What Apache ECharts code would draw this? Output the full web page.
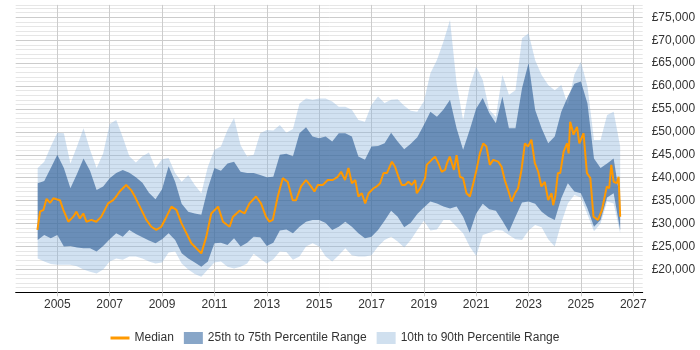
<!DOCTYPE html>
<html>
<head>
<meta charset="utf-8">
<script src="https://cdn.jsdelivr.net/npm/echarts@6/dist/echarts.min.js"></script>
<style>
  html, body { margin: 0; padding: 0; background: #fff; }
  #chart { width: 700px; height: 350px; }
</style>
</head>
<body>
<div id="chart"></div>
<script>
// values in £ thousands, quarterly
const years = [
  2004.25, 2004.5, 2004.75, 2005, 2005.25, 2005.5, 2005.75, 2006, 2006.25, 2006.5, 2006.75, 2007, 2007.25, 2007.5, 2007.75,
  2008, 2008.25, 2008.5, 2008.75, 2009, 2009.25, 2009.5, 2009.75, 2010, 2010.25, 2010.5, 2010.75, 2011, 2011.25, 2011.5, 2011.75,
  2012, 2012.25, 2012.5, 2012.75, 2013, 2013.25, 2013.5, 2013.75, 2014, 2014.25, 2014.5, 2014.75, 2015, 2015.25, 2015.5, 2015.75,
  2016, 2016.25, 2016.5, 2016.75, 2017, 2017.25, 2017.5, 2017.75, 2018, 2018.25, 2018.5, 2018.75, 2019, 2019.25, 2019.5, 2019.75,
  2020, 2020.25, 2020.5, 2020.75, 2021, 2021.25, 2021.5, 2021.75, 2022, 2022.25, 2022.5, 2022.75, 2023, 2023.25, 2023.5, 2023.75,
  2024, 2024.25, 2024.5, 2024.75, 2025, 2025.25, 2025.5, 2025.75, 2026, 2026.25, 2026.5
];
const p90 = [
  42.1, 43.5, 46.8, 49.8, 49.7, 43.1, 46.8, 50.8, 46.1, 42.1, 45.3, 51.7, 52.6, 48.8, 44.7,
  43.3, 44.7, 45.5, 42.1, 44.0, 44.3, 41.0, 39.1, 40.6, 38.4, 36.6, 42.4, 46.1, 46.8, 50.4, 53.0,
  47.1, 44.6, 45.0, 49.7, 50.4, 50.3, 51.5, 49.8, 50.6, 56.2, 57.3, 57.0, 57.3, 57.3, 56.6, 55.5,
  55.5, 54.8, 52.6, 52.2, 55.9, 57.7, 56.3, 57.0, 57.1, 55.7, 54.6, 54.4, 56.6, 62.8, 65.7, 69.7,
  74.4, 60.6, 52.6, 59.9, 64.2, 61.3, 54.8, 53.3, 62.4, 58.1, 59.1, 70.4, 71.5, 65.7, 62.4, 60.2,
  59.1, 60.2, 55.9, 62.5, 65.3, 59.9, 48.2, 48.2, 53.7, 54.4, 46.8
];
const p75 = [
  38.8, 39.3, 42.1, 45.0, 42.1, 37.7, 40.8, 44.2, 41.5, 37.3, 38.1, 39.9, 41.0, 41.7, 41.1,
  40.1, 38.9, 36.7, 35.3, 37.5, 42.5, 39.1, 34.3, 32.6, 32.2, 31.9, 37.7, 42.1, 41.5, 43.1, 43.5,
  41.3, 41.0, 41.0, 40.6, 40.1, 40.2, 45.0, 45.2, 44.7, 49.7, 51.0, 49.0, 48.6, 49.0, 47.9, 49.7,
  49.7, 49.0, 44.6, 43.9, 46.8, 46.9, 47.5, 49.8, 47.9, 46.2, 47.4, 48.8, 51.5, 54.4, 53.3, 54.9,
  57.0, 50.8, 46.1, 50.4, 55.1, 57.4, 54.1, 51.9, 57.7, 50.8, 50.8, 59.5, 65.0, 54.8, 50.8, 47.5,
  49.0, 54.4, 57.7, 60.5, 61.0, 56.2, 44.2, 42.1, 43.1, 44.2, 35.1
];
const p25 = [
  26.4, 27.5, 26.8, 27.5, 25.0, 25.1, 24.8, 24.6, 24.6, 23.9, 25.1, 26.6, 27.9, 27.1, 28.6,
  27.7, 27.0, 26.3, 25.7, 26.6, 27.9, 26.4, 23.5, 22.4, 21.5, 20.6, 21.7, 25.7, 25.8, 25.3, 26.8,
  25.0, 25.8, 27.1, 27.0, 25.1, 25.8, 28.5, 28.7, 27.9, 29.3, 30.4, 30.8, 30.8, 30.1, 28.6, 29.3,
  30.4, 29.3, 27.9, 26.8, 27.1, 28.6, 30.6, 32.8, 31.5, 29.2, 30.2, 32.1, 33.5, 34.8, 34.4, 33.7,
  33.3, 33.7, 31.5, 28.0, 32.2, 34.3, 33.1, 32.8, 30.6, 28.2, 31.5, 34.6, 34.8, 34.3, 32.6, 31.5,
  30.8, 35.5, 38.8, 37.0, 36.6, 33.3, 29.3, 30.8, 35.7, 36.6, 28.6
];
const p10 = [
  22.4, 21.7, 21.2, 21.0, 21.0, 21.0, 20.7, 20.0, 19.5, 19.1, 20.0, 21.7, 22.4, 22.1, 22.8,
  22.8, 22.4, 21.7, 21.3, 21.5, 23.7, 23.9, 21.3, 20.0, 19.0, 18.4, 20.0, 21.5, 21.7, 20.6, 20.2,
  20.6, 21.3, 23.4, 22.3, 21.3, 22.2, 23.9, 23.8, 22.1, 22.8, 25.0, 25.7, 25.0, 22.8, 21.7, 23.1,
  24.6, 23.1, 22.8, 22.8, 23.1, 25.0, 26.4, 27.1, 26.1, 24.8, 26.4, 28.6, 30.6, 28.5, 28.7, 30.8,
  30.8, 29.3, 27.9, 25.0, 22.9, 27.5, 28.0, 28.6, 28.5, 27.5, 26.6, 26.4, 28.5, 29.7, 29.2, 26.6,
  25.0, 30.1, 34.4, 36.2, 35.7, 32.0, 28.3, 30.0, 34.8, 34.4, 27.9
];

// median is sampled more finely
const medYears = [
  2004.24, 2004.34, 2004.47, 2004.59, 2004.72, 2004.85, 2004.97, 2005.10, 2005.23, 2005.42, 2005.61, 2005.73, 2005.86, 2005.99,
  2006.11, 2006.30, 2006.49, 2006.68, 2006.94, 2007.13, 2007.25, 2007.38, 2007.63, 2007.82, 2007.96,
  2008.15, 2008.40, 2008.59, 2008.78, 2008.97, 2009.17, 2009.36, 2009.55, 2009.74, 2009.93,
  2010.12, 2010.31, 2010.50, 2010.69, 2010.88, 2011.14, 2011.33, 2011.58, 2011.71, 2011.96,
  2012.15, 2012.34, 2012.59, 2012.78, 2012.97, 2013.10, 2013.23, 2013.42, 2013.61, 2013.80, 2013.99,
  2014.12, 2014.31, 2014.50, 2014.69, 2014.82, 2014.95, 2015.14, 2015.33, 2015.52, 2015.71, 2015.84, 2015.99,
  2016.12, 2016.25, 2016.38, 2016.50, 2016.63, 2016.76, 2016.89, 2017.08, 2017.20, 2017.33, 2017.46, 2017.59, 2017.78, 2017.90,
  2018.03, 2018.16, 2018.28, 2018.41, 2018.54, 2018.67, 2018.73, 2018.86, 2019.05, 2019.11, 2019.30, 2019.43, 2019.56, 2019.68, 2019.81, 2019.88, 2019.99,
  2020.06, 2020.15, 2020.25, 2020.38, 2020.50, 2020.63, 2020.76, 2020.89, 2021.01, 2021.14, 2021.27, 2021.39, 2021.52, 2021.65, 2021.84, 2021.97,
  2022.09, 2022.22, 2022.35, 2022.48, 2022.60, 2022.73, 2022.86, 2022.98, 2023.11, 2023.24, 2023.37, 2023.49, 2023.62, 2023.75, 2023.88, 2023.94,
  2024.02, 2024.12, 2024.21, 2024.34, 2024.47, 2024.53, 2024.59, 2024.72, 2024.78, 2024.85, 2024.94, 2025.10, 2025.23, 2025.36, 2025.48,
  2025.65, 2025.80, 2025.99, 2026.08, 2026.16, 2026.25, 2026.37, 2026.44, 2026.50
];
const median = [
  28.6, 32.6, 33.0, 35.4, 34.5, 35.5, 35.3, 35.1, 33.0, 30.4, 31.5, 32.6, 31.1, 32.2,
  30.4, 30.8, 30.4, 31.5, 34.4, 35.1, 35.9, 37.0, 38.4, 37.3, 35.9,
  33.7, 30.8, 29.3, 28.6, 29.3, 31.5, 33.7, 33.0, 30.1, 27.9,
  25.7, 24.6, 23.5, 27.1, 32.2, 33.7, 30.4, 29.3, 31.5, 32.8,
  32.2, 34.4, 35.9, 34.4, 31.5, 30.4, 30.8, 35.9, 39.9, 39.1, 35.1,
  35.1, 38.1, 39.5, 38.1, 37.0, 38.4, 38.4, 39.5, 39.5, 40.2, 41.3, 39.5,
  42.1, 38.8, 39.5, 35.9, 36.6, 34.4, 36.6, 37.7, 38.1, 38.8, 41.0, 41.0, 43.5, 42.4,
  40.2, 38.4, 38.4, 39.1, 38.4, 39.5, 36.6, 37.7, 39.9, 42.8, 43.9, 44.6, 43.1, 41.3, 41.7, 43.1, 44.6,
  44.9, 41.7, 44.9, 40.2, 39.9, 36.6, 35.9, 38.8, 41.7, 45.3, 47.5, 46.8, 42.8, 43.9, 43.5, 42.4,
  39.5, 37.3, 34.8, 36.6, 37.7, 41.7, 47.5, 46.8, 48.3, 43.2, 41.3, 38.1, 39.1, 35.1, 36.6, 34.0,
  35.9, 41.0, 41.0, 45.7, 47.5, 45.3, 52.2, 49.4, 49.0, 51.1, 47.5, 49.7, 41.0, 39.9, 31.5,
  30.8, 32.9, 38.1, 37.7, 42.8, 39.1, 38.8, 40.2, 31.5
];

const yearTicks = [2005, 2007, 2009, 2011, 2013, 2015, 2017, 2019, 2021, 2023, 2025, 2027];

const NAME_MED = 'Median';
const NAME_IQR = '25th to 75th Percentile Range';
const NAME_DEC = '10th to 90th Percentile Range';

function band(name, low, high, fill) {
  return {
    name: name,
    type: 'custom',
    silent: true,
    data: years.map((y, i) => [y, low[i], high[i]]),
    encode: { x: 0, y: [1, 2] },
    itemStyle: { color: fill },
    renderItem: function (params, api) {
      if (params.dataIndex !== 0) return null;
      const pts = [];
      for (let i = 0; i < years.length; i++) pts.push(api.coord([years[i], high[i]]));
      for (let i = years.length - 1; i >= 0; i--) pts.push(api.coord([years[i], low[i]]));
      return { type: 'polygon', shape: { points: pts }, style: { fill: fill } };
    }
  };
}

const chart = echarts.init(document.getElementById('chart'));
const font = 'Arial, "Liberation Sans", sans-serif';

chart.setOption({
  animation: false,
  textStyle: { fontFamily: font },
  grid: { left: 15.7, right: 57.3, top: 4.9, bottom: 57.7, containLabel: false, outerBoundsMode: 'none' },
  legend: {
    left: 104,
    top: 327,
    itemWidth: 19,
    itemHeight: 12,
    itemGap: 10,
    textStyle: { color: '#333', fontSize: 12, fontFamily: font },
    data: [
      { name: NAME_MED, lineStyle: { width: 3 }, itemStyle: { opacity: 0 } },
      { name: NAME_IQR, icon: 'rect', itemStyle: { color: '#88a6c8' } },
      { name: NAME_DEC, icon: 'rect', itemStyle: { color: '#d0e0ef' } }
    ]
  },
  xAxis: {
    type: 'value',
    min: 2003.41,
    max: 2027.36,
    axisLine: { lineStyle: { color: '#000', width: 1 } },
    axisTick: { show: true, length: 4, customValues: yearTicks, lineStyle: { color: '#ccc' } },
    axisLabel: {
      customValues: yearTicks,
      color: '#333',
      fontSize: 12,
      margin: 6,
      fontFamily: font,
      formatter: function (v) { return String(Math.round(v)); }
    },
    splitLine: { show: true, lineStyle: { color: '#ccc', width: 1 } }
  },
  yAxis: {
    type: 'value',
    position: 'right',
    min: 15,
    max: 77.7,
    interval: 1,
    axisLine: { show: false },
    axisTick: { show: false },
    axisLabel: {
      color: '#333',
      fontSize: 12,
      margin: 9,
      fontFamily: font,
      formatter: function (v) {
        return (v >= 20 && Math.round(v) % 5 === 0 && Math.abs(v - Math.round(v)) < 1e-6) ? '£' + Math.round(v) + ',000' : '';
      }
    },
    splitLine: {
      show: true,
      lineStyle: { color: ['#cccccc', '#e6e6e6', '#e6e6e6', '#e6e6e6', '#e6e6e6'], width: 1 }
    }
  },
  series: [
    band(NAME_DEC, p10, p90, 'rgba(140,180,220,0.4)'),
    band(NAME_IQR, p25, p75, 'rgba(39,88,146,0.6)'),
    {
      name: NAME_MED,
      type: 'line',
      data: medYears.map((y, i) => [y, median[i]]),
      symbol: 'none',
      showSymbol: false,
      lineStyle: { color: '#ff9900', width: 2 },
      itemStyle: { color: '#ff9900' },
      z: 5
    }
  ]
});
</script>
</body>
</html>
